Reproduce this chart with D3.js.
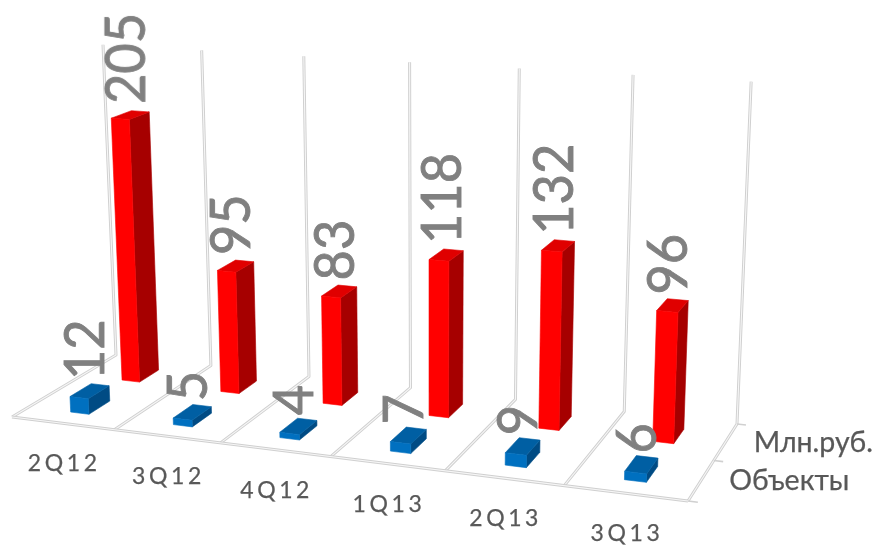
<!DOCTYPE html>
<html><head><meta charset="utf-8">
<style>html,body{margin:0;padding:0;background:#fff;overflow:hidden}svg{display:block}</style>
<script src="https://cdn.jsdelivr.net/npm/d3@7"></script>
</head><body>
<script>
const categories = ["2Q12","3Q12","4Q12","1Q13","2Q13","3Q13"];
const seriesNames = ["Объекты","Млн.руб."];
const objectsValues = [12,5,4,7,9,6];
const rubValues = [205,95,83,118,132,96];
const zMax = 250;

const W=881,H=546;
const svg=d3.select("body").append("svg").attr("width",W).attr("height",H);
const defs=svg.append("defs");
defs.append("filter").attr("id","soft")
  .attr("filterUnits","userSpaceOnUse").attr("x",0).attr("y",0).attr("width",W).attr("height",H)
  .append("feGaussianBlur").attr("stdDeviation",0.5);
const root=svg.append("g").attr("filter","url(#soft)");

// projective camera from floor corners + vertical vanishing point
const [x0,y0,x1,y1,x2,y2,x3,y3]=[12,417,688,501,737,424,116,355];
const dx1=x1-x2,dx2=x3-x2,sx=x0-x1+x2-x3,dy1=y1-y2,dy2=y3-y2,sy=y0-y1+y2-y3;
const den=dx1*dy2-dx2*dy1;
const g=(sx*dy2-dx2*sy)/den,h=(dx1*sy-sx*dy1)/den;
const a=x1-x0+g*x1,b=x3-x0+h*x3,d=y1-y0+g*y1,e=y3-y0+h*y3;
const k=-0.0436,vx=430,vy=7850;
function project(u,v,z){
  const q=k*z,w=1+g*u+h*v+q;
  return [(a*u+b*v+x0+q*vx)/w,(d*u+e*v+y0+q*vy)/w];
}

const uBand=d3.scaleBand().domain(categories).range([0,1]).paddingInner(0.82).paddingOuter(0.41);
const uShift=0.008/categories.length;
const uGrid=d3.scaleLinear().domain([0,categories.length]).range([0,1]);
const vBand=d3.scaleBand().domain(seriesNames).range([0,1]).paddingInner(0.6).paddingOuter(0.3);
const zScale=d3.scaleLinear().domain([0,zMax]).range([0,1]);
const lineGen=d3.line();

function dbl(pts){
  const p=lineGen(pts);
  root.append("path").attr("d",p).attr("fill","none").attr("stroke","#cfcfcf").attr("stroke-width",3).attr("stroke-linejoin","round");
  root.append("path").attr("d",p).attr("fill","none").attr("stroke","#f6f6f6").attr("stroke-width",1.1).attr("stroke-linejoin","round");
}
d3.range(categories.length+1).forEach(i=>{
  const u=uGrid(i);
  dbl([project(u,0,0),project(u,1,0),project(u,1,1)]);
});
dbl([project(0,0,0),project(1,0,0)]);
[0,0.5,1].forEach(v=>{
  root.append("path").attr("d",lineGen([project(1,v,0),project(1.013,v,0)]))
    .attr("stroke","#d0d0d0").attr("stroke-width",1.6).attr("fill","none");
});

const series=[
  {name:seriesNames[1],values:rubValues,front:"#ff0000",side:"#a60000",top:"#e00000"},
  {name:seriesNames[0],values:objectsValues,front:"#0070c0",side:"#004c84",top:"#005fa3"}
];
function face(gb,color,pts){
  gb.append("path").attr("fill",color).attr("stroke",color).attr("stroke-width",0.6).attr("stroke-linejoin","round").attr("d",lineGen(pts)+"Z");
}
const labels=[];
series.forEach(s=>{
  s.values.forEach((val,i)=>{
    const u0=uBand(categories[i])+uShift,u1=u0+uBand.bandwidth();
    const v0=vBand(s.name),v1=v0+vBand.bandwidth(),z=zScale(val);
    const gb=root.append("g");
    face(gb,s.side,[project(u1,v0,0),project(u1,v1,0),project(u1,v1,z),project(u1,v0,z)]);
    face(gb,s.top,[project(u0,v0,z),project(u1,v0,z),project(u1,v1,z),project(u0,v1,z)]);
    face(gb,s.front,[project(u0,v0,0),project(u1,v0,0),project(u1,v0,z),project(u0,v0,z)]);
    labels.push({val,c:project((u0+u1)/2,(v0+v1)/2,z)});
  });
});
labels.forEach(l=>{
  root.append("text").text(l.val)
    .attr("transform",`translate(${l.c[0]+14.5},${l.c[1]-11}) rotate(-90) scale(0.92,1)`)
    .attr("font-family","Lato").attr("font-size",57).attr("fill","#808080")
    .attr("stroke","#808080").attr("stroke-width",0.9);
});
categories.forEach((c,i)=>{
  const p=project(uGrid(i+0.5),0,0);
  root.append("text").text(c)
    .attr("x",p[0]+1.5).attr("y",p[1]+48).attr("text-anchor","middle")
    .attr("font-family","Lato").attr("font-size",23).attr("letter-spacing",3.6).attr("fill","#595959")
    .attr("stroke","#595959").attr("stroke-width",0.25);
});
seriesNames.forEach(n=>{
  const p=project(1,vBand(n)+vBand.bandwidth()/2,0);
  root.append("text").text(n)
    .attr("x",p[0]+28).attr("y",p[1]+10).attr("font-family","Lato, 'Open Sans'").attr("font-size",28.5).attr("fill","#595959")
    .attr("stroke","#595959").attr("stroke-width",0.25);
});
</script>
</body></html>
